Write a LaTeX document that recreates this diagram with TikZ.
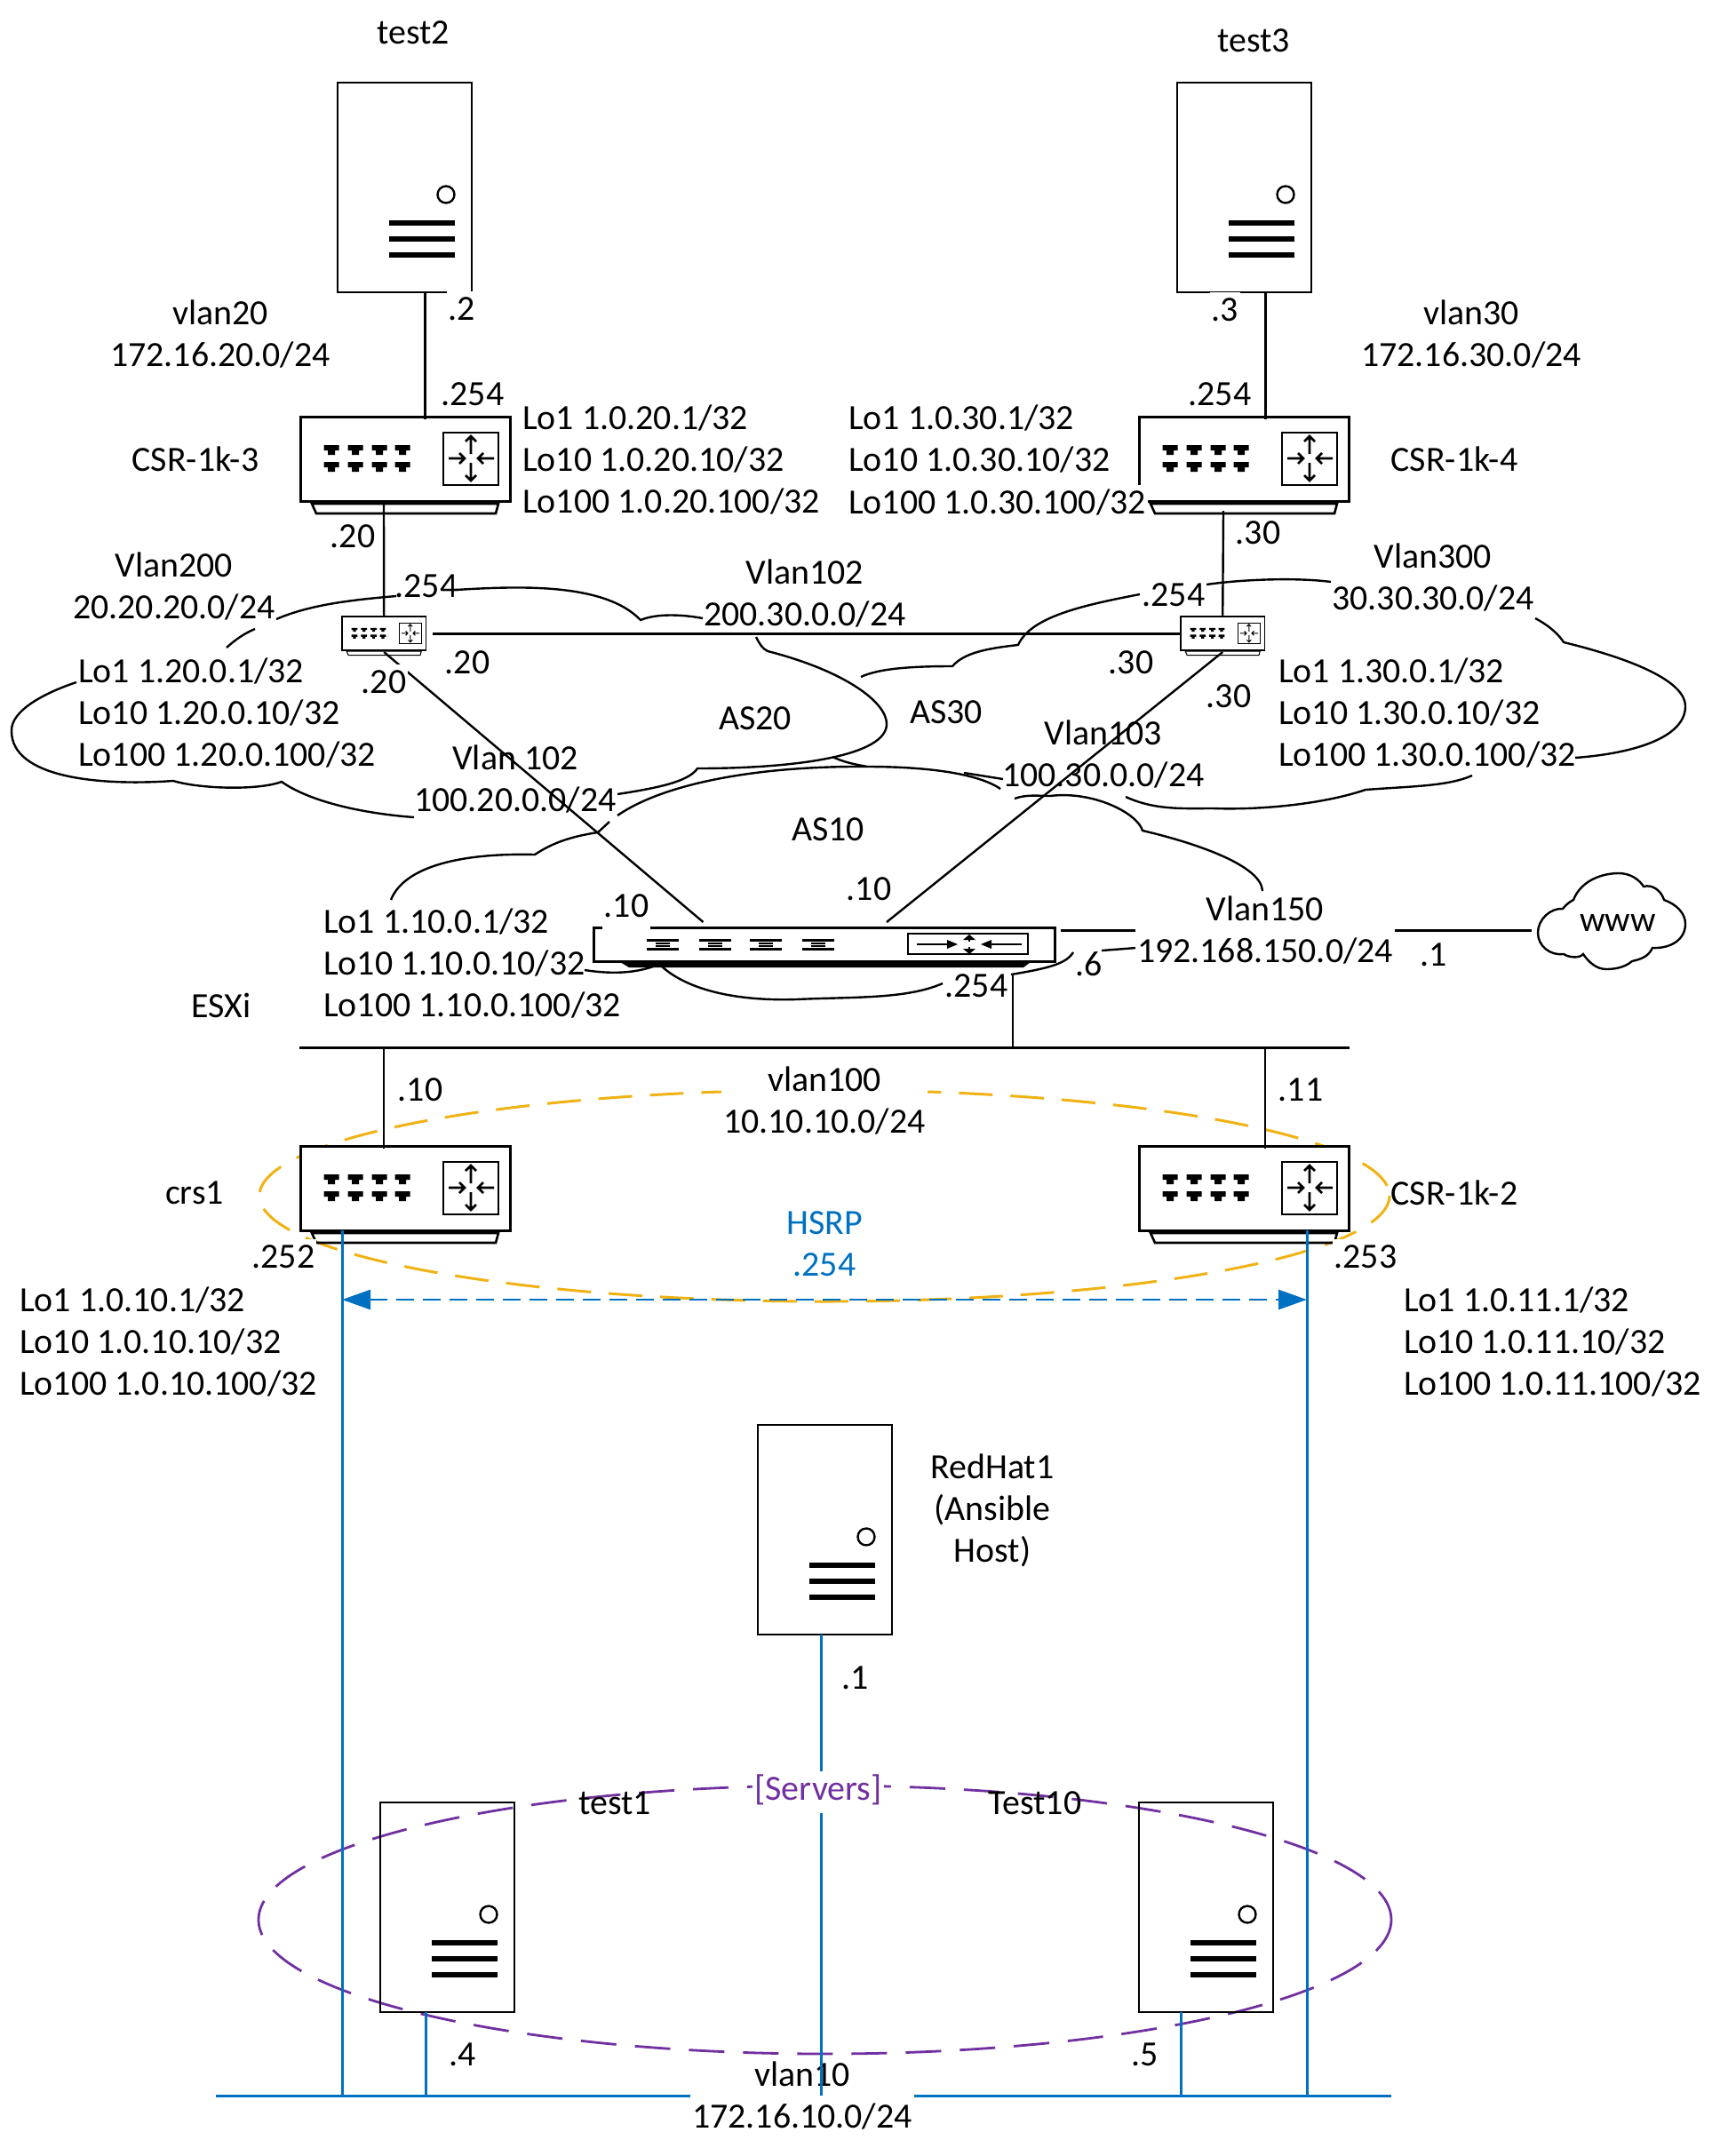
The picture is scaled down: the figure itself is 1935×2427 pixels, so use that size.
\documentclass[tikz,border=0pt]{standalone}
\usepackage{fontspec}
\setmainfont{Carlito}
\usetikzlibrary{arrows.meta}
\definecolor{netblue}{RGB}{0,112,192}
\definecolor{netgold}{RGB}{240,178,20}
\definecolor{netpurple}{RGB}{112,48,160}
\tikzset{
  lbl/.style={inner sep=0pt,inner xsep=0pt,font=\fontsize{39.85}{47}\selectfont,align=center},
  lblw/.style={lbl,fill=white,inner xsep=2pt},
  devbox/.style={draw=black,fill=white,inner sep=0pt,outer sep=0pt,anchor=north west},
  srvbox/.style={draw=black,line width=2.6pt,inner sep=0pt,outer sep=0pt,anchor=north west,minimum width=151pt,minimum height=236pt},
  link/.style={draw=black,line width=2.4pt},
  cl/.style={draw=black,line width=2.4pt},
  bluelink/.style={draw=netblue,line width=3pt},
}
\newcommand\st{\strut}
\newcommand\lab[4][]{\node[lbl,#1] (#2) at ([yshift=-4pt]#3) {\strut #4};}
\newcommand\routerdev[4]{%
  \node[devbox,line width={#4*3pt},minimum width={236pt*#4},minimum height={95pt*#4}] (#1) at (#2,#3) {};
  \begin{scope}[shift={(#1.north west)},scale=#4,line width={#4*2.6pt}]
    \foreach \c in {35,62,89,115} \foreach \r in {32,51}
      \fill ({\c-8.5},\r)--({\c+8.5},\r)--({\c+8.5},\r+6)--({\c+4},\r+6)--({\c+4},\r+11)--({\c-4},\r+11)--({\c-4},\r+6)--({\c-8.5},\r+6)--cycle;
    \draw (161,18) rectangle (223,77);
    \draw (167,47)--(185,47) (179,41)--(185,47)--(179,53);
    \draw (218,47)--(200,47) (206,41)--(200,47)--(206,53);
    \draw (192,42)--(192,22) (186,28)--(192,22)--(198,28);
    \draw (192,52)--(192,72) (186,66)--(192,72)--(198,66);
    \draw (13,98)--(223,98)--(220,109)--(18,109)--cycle;
  \end{scope}}
\newcommand\serverdev[3]{%
  \node[srvbox] (#1) at (#2,#3) {};
  \begin{scope}[shift={(#1.north west)}]
    \draw[line width=2.4pt] (122,126) circle (9.5);
    \foreach \r in {158,176,194} \draw[line width=6pt] (58,\r)--(132,\r);
  \end{scope}}
\begin{document}
\begin{tikzpicture}[x=1pt,y=-1pt,line cap=butt]
\useasboundingbox (0,0) rectangle (1935,2427);
\fill[white] (0,0) rectangle (1935,2427);

% ellipses
\draw[netgold,line width=3pt,dash pattern=on 38pt off 20pt] (928,1346) ellipse (636 and 119);
\draw[netpurple,line width=2.8pt,dash pattern=on 40pt off 21pt] (928.5,2161) ellipse (637.5 and 151);

% AS20 cloud
\draw[cl] (255,729) .. controls (265,720) and (275,713) .. (287,708);
\draw[cl] (311,697) .. controls (350,680) and (400,675) .. (446,671);
\draw[cl] (513,664) .. controls (580,660) and (680,655) .. (721,698) .. controls (740,690) and (770,692) .. (791,696);
\draw[cl] (851,717) .. controls (855,725) and (858,730) .. (864,733) .. controls (950,755) and (998,790) .. (998,815) .. controls (998,850) and (900,865) .. (785,865) .. controls (775,880) and (740,887) .. (695,894);
\draw[cl] (466,920) .. controls (400,915) and (345,900) .. (317,880) .. controls (290,890) and (225,888) .. (195,879) .. controls (110,885) and (13,875) .. (13,823) .. controls (12,800) and (50,780) .. (86,768);
% AS30 cloud
\draw[cl] (969,762) .. controls (990,752) and (1030,750) .. (1072,750) .. controls (1085,735) and (1110,730) .. (1146,726) .. controls (1160,695) and (1215,682) .. (1283,669);
\draw[cl] (1358,658) .. controls (1400,652) and (1460,650) .. (1498,655);
\draw[cl] (1728,696) .. controls (1745,705) and (1755,715) .. (1760,723) .. controls (1850,745) and (1897,770) .. (1897,795) .. controls (1897,830) and (1840,848) .. (1773,853);
\draw[cl] (1657,873) .. controls (1630,885) and (1590,885) .. (1537,889) .. controls (1490,905) and (1420,912) .. (1365,910) .. controls (1330,910) and (1300,912) .. (1267,897);
\draw[cl] (937,852) .. controls (950,858) and (960,860) .. (976,863);
\draw[cl] (1085,870) -- (1129,877);
% AS10 cloud
\draw[cl] (695,918) .. controls (750,880) and (860,862) .. (976,863) .. controls (1040,863) and (1100,870) .. (1126,888);
\draw[cl] (1142,899) .. controls (1155,894) and (1170,896) .. (1182,896) .. controls (1230,890) and (1280,915) .. (1286,935) .. controls (1350,950) and (1420,975) .. (1421,1003);
\draw[cl] (686,925) -- (673,937) .. controls (640,942) and (620,950) .. (602,962) .. controls (520,960) and (455,975) .. (440,1013);
\draw[cl] (745,1088) .. controls (775,1115) and (830,1127) .. (896,1125) .. controls (960,1122) and (1020,1125) .. (1061,1107);
\draw[cl] (1138,1097) .. controls (1180,1090) and (1200,1085) .. (1208,1072);
\draw[cl] (658,1092) .. controls (690,1097) and (715,1095) .. (735,1088);
\draw[cl] (1240,1070) -- (1279,1067);

% www cloud
\node[inner sep=0pt,font=\fontsize{39.85}{47}\selectfont,minimum width=166pt,minimum height=108pt] (www) at (1821,1039) {www};
\draw[cl] (1759,1023) .. controls (1763,1018) and (1767,1015) .. (1771,1013) .. controls (1780,990) and (1805,983) .. (1822,983) .. controls (1835,983) and (1845,990) .. (1850,998) .. controls (1860,995) and (1870,1003) .. (1873,1013) .. controls (1887,1018) and (1897,1028) .. (1897,1040) .. controls (1897,1058) and (1880,1068) .. (1860,1067) .. controls (1855,1078) and (1845,1080) .. (1837,1082) .. controls (1830,1088) and (1820,1091) .. (1808,1091) .. controls (1797,1091) and (1788,1083) .. (1782,1074) .. controls (1778,1079) and (1766,1078) .. (1760,1074) .. controls (1745,1076) and (1731,1065) .. (1731,1050) .. controls (1731,1035) and (1745,1022) .. (1759,1023) -- cycle;

% devices
\serverdev{test2}{380}{93}
\serverdev{test3}{1325}{93}
\serverdev{redhat}{853}{1604}
\serverdev{test1}{428}{2029}
\serverdev{test10}{1282}{2029}
\routerdev{r3}{338}{469}{1}
\routerdev{r4}{1282}{469}{1}
\routerdev{crs}{338}{1290}{1}
\routerdev{r2}{1282}{1290}{1}
\routerdev{s3}{385}{694}{0.4}
\routerdev{s4}{1329}{694}{0.4}
% flat switch
\node[devbox,line width=3pt,minimum width=519pt,minimum height=38pt] (flat) at (668,1044) {};
\fill (698,1083) -- (1160,1083) -- (1152,1089) -- (708,1089) -- cycle;
\foreach \c in {746,805,862,921} {
  \draw[line width=3pt] (\c-18,1058)--(\c+18,1058) (\c-18,1068)--(\c+18,1068);
  \draw[line width=2.4pt] (\c-8,1062)--(\c+8,1062) (\c-8,1065)--(\c+8,1065);
}
\draw[line width=2.6pt] (1022,1051) rectangle (1157,1074);
\draw[line width=1.6pt] (1032,1063)--(1070,1063) (1150,1063)--(1112,1063);
\fill (1078,1063)--(1066,1058)--(1066,1068)--cycle (1104,1063)--(1116,1058)--(1116,1068)--cycle;
\draw[line width=2.6pt] (1091,1056)--(1091,1060) (1091,1066)--(1091,1070);
\fill (1091,1052)--(1084,1058)--(1098,1058)--cycle (1091,1074)--(1084,1068)--(1098,1068)--cycle;

% black connectors
\draw[link] ([xshift=23pt]test2.south) -- ([xshift=23pt,yshift=-3pt]test2.south |- r3.north);
\draw[link] ([xshift=24pt]test3.south) -- ([xshift=24pt,yshift=-3pt]test3.south |- r4.north);
\draw[link] ([xshift=-24pt]r3.south) -- (s3.north);
\draw[link] ([xshift=-23pt,yshift=-11pt]r4.south) -- (s4.north);
\draw[draw=black,line width=3pt,shorten <=8pt] (s3.east) -- (s4.west);
\draw[link] ([yshift=-2pt]s3.south) -- ([xshift=-136pt,yshift=6pt]flat.north);
\draw[link] ([yshift=-2pt]s4.south) -- ([xshift=70.5pt,yshift=6pt]flat.north);
\coordinate (busA) at (337,1179);
\coordinate (busB) at (1519,1179);
\draw[draw=black,line width=3pt] (busA) -- (busB);
\draw[link,shorten <=15pt] ([xshift=212.5pt]flat.south) -- ([xshift=212.5pt]flat.south |- busA);
\draw[link] ([xshift=-24pt,yshift=-3pt]crs.north) -- ([xshift=-24pt]crs.north |- busA);
\draw[link] ([xshift=24pt,yshift=-3pt]r2.north) -- ([xshift=24pt]r2.north |- busA);
\coordinate (flatout) at (1194,1047);
\coordinate (wwwin) at (1724,1047);
\draw[draw=black,line width=3pt] (flatout) -- (wwwin);

% blue connectors
\coordinate (vbA) at (243,2359);
\coordinate (vbB) at (1566,2359);
\draw[bluelink] (vbA) -- (vbB);
\draw[bluelink] ([xshift=-71pt]crs.south) -- ([xshift=-71pt]crs.south |- vbA);
\draw[bluelink] ([xshift=71pt]r2.south) -- ([xshift=71pt]r2.south |- vbA);
\draw[bluelink] ([xshift=-24pt]test1.south) -- ([xshift=-24pt]test1.south |- vbA);
\draw[bluelink] ([xshift=-28pt]test10.south) -- ([xshift=-28pt]test10.south |- vbA);
\draw[draw=netblue,line width=2.8pt,dash pattern=on 20pt off 10pt,{Triangle[length=32pt,width=22pt]}-{Triangle[length=32pt,width=22pt]}]
  ([xshift=-71pt,yshift=-78pt]crs.south) -- ([xshift=71pt,yshift=-78pt]r2.south);

% labels
\lab{ltest2}{465,36}{test2}
\lab{ltest3}{1411,45}{test3}
\lab[lblw]{ldot2}{520,347}{.2}
\lab[lblw]{ldot3}{1379,348}{.3}
\lab{lv20}{248,376}{vlan20\\\st 172.16.20.0/24}
\lab{lv30}{1656,376}{vlan30\\\st 172.16.30.0/24}
\lab{lr3a}{532,443}{.254}
\lab{lr4a}{1373,443}{.254}
\lab{lcsr3}{220,517}{CSR-1k-3}
\lab{lcsr4}{1637,517}{CSR-1k-4}
\lab[anchor=west,align=left]{llo3}{588,517}{Lo1 1.0.20.1/32\\\st Lo10 1.0.20.10/32\\\st Lo100 1.0.20.100/32}
\lab[anchor=west,align=left]{llo4a}{955,494}{Lo1 1.0.30.1/32\\\st Lo10 1.0.30.10/32}
\lab[lblw,anchor=west]{llo4b}{953,565}{Lo100 1.0.30.100/32}
\lab{lr3b}{397,603}{.20}
\lab[lblw]{lr4b}{1416,599}{.30}
\lab{lv200}{196,660}{Vlan200\\\st 20.20.20.0/24}
\lab{ls3a}{480,659}{.254}
\lab{lv102a}{906,668}{Vlan102\\\st 200.30.0.0/24}
\lab{lv300}{1613,650}{Vlan300\\\st 30.30.30.0/24}
\lab{ls4a}{1321,669}{.254}
\lab{ls3b}{526,745}{.20}
\lab[lblw]{ls3c}{432,767}{.20}
\lab{ls4b}{1273,745}{.30}
\lab{ls4c}{1383,783}{.30}
\lab[anchor=west,align=left]{llo20}{88,802}{Lo1 1.20.0.1/32\\\st Lo10 1.20.0.10/32\\\st Lo100 1.20.0.100/32}
\lab[anchor=west,align=left]{llo30}{1439,802}{Lo1 1.30.0.1/32\\\st Lo10 1.30.0.10/32\\\st Lo100 1.30.0.100/32}
\lab{las20}{850,808}{AS20}
\lab{las30}{1065,801}{AS30}
\lab{las10}{932,933}{AS10}
\lab{lv102b}{580,877}{Vlan 102\\\st 100.20.0.0/24}
\lab{lv103}{1242,849}{Vlan103\\\st 100.30.0.0/24}
\lab[lblw,inner ysep=5pt]{lfa}{705,1019}{.10}
\lab{lfb}{978,1000}{.10}
\lab[anchor=west,align=left]{llo10}{364,1084}{Lo1 1.10.0.1/32\\\st Lo10 1.10.0.10/32\\\st Lo100 1.10.0.100/32}
\lab{lesxi}{249,1132}{ESXi}
\lab[lblw]{lfc}{1099,1109}{.254}
\lab{lfd}{1226,1085}{.6}
\lab[lblw]{lv150}{1424,1047}{Vlan150\\\st 192.168.150.0/24}
\lab{lwdot}{1614,1074}{.1}
\lab[lblw]{lv100}{928,1239}{vlan100\\\st 10.10.10.0/24}
\lab[text=netblue]{lhsrp}{928,1400}{HSRP\\\st .254}
\lab{lcrs}{219,1342}{crs1}
\lab{lcsr2}{1637,1343}{CSR-1k-2}
\lab{lcrsa}{473,1226}{.10}
\lab{lr2a}{1464,1226}{.11}
\lab[lblw]{lcrsb}{319,1414}{.252}
\lab[lblw]{lr2b}{1537,1414}{.253}
\lab[anchor=west,align=left]{llo1}{22,1510}{Lo1 1.0.10.1/32\\\st Lo10 1.0.10.10/32\\\st Lo100 1.0.10.100/32}
\lab[anchor=west,align=left]{llo2}{1580,1510}{Lo1 1.0.11.1/32\\\st Lo10 1.0.11.10/32\\\st Lo100 1.0.11.100/32}
\lab{lrh}{1117,1698}{RedHat1\\\st (Ansible\\\st Host)}
\lab{lrhd}{963,1888}{.1}
\lab{ltest1}{692,2029}{test1}
\lab{ltest10}{1165,2029}{Test10}
\lab{ld4}{521,2312}{.4}
\lab{ld5}{1289,2312}{.5}
\lab[lblw]{lv10}{903,2359}{vlan10\\\st 172.16.10.0/24}
\draw[bluelink] ([xshift=-4pt]redhat.south) -- ([xshift=-4pt]redhat.south |- vbA);
\lab[lblw,text=netpurple]{lsrv}{921,2013}{[Servers]}
\end{tikzpicture}
\end{document}
